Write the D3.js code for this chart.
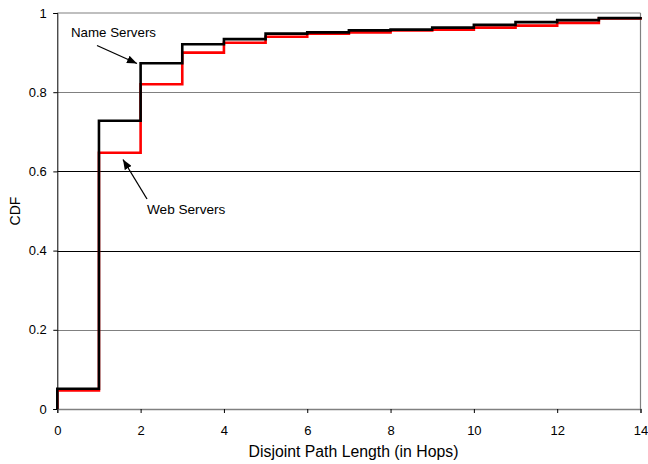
<!DOCTYPE html>
<html>
<head>
<meta charset="utf-8">
<script src="https://cdn.jsdelivr.net/npm/d3@7"></script>
<style>
  html, body { margin: 0; padding: 0; background: #fff; }
  svg { display: block; font-family: "Liberation Sans", Arial, sans-serif; }
</style>
</head>
<body>
<svg id="chart" width="648" height="464"></svg>
<script>
// Disjoint path length (hops) and cumulative fraction for each server type
const hops = [0, 1, 2, 3, 4, 5, 6, 7, 8, 9, 10, 11, 12, 13, 14];
const nameServers = [0.051, 0.728, 0.873, 0.921, 0.934, 0.948, 0.951, 0.956, 0.958, 0.963, 0.970, 0.977, 0.982, 0.987, 0.990];
const webServers  = [0.047, 0.647, 0.820, 0.900, 0.925, 0.940, 0.948, 0.951, 0.956, 0.958, 0.963, 0.968, 0.975, 0.986, 0.990];

const xTicks = [0, 2, 4, 6, 8, 10, 12, 14];
const yTicks = [0, 0.2, 0.4, 0.6, 0.8, 1];
const yTickLabels = ["0", "0.2", "0.4", "0.6", "0.8", "1"];

const svg = d3.select("#chart");
const plotLeft = 57.3, plotRight = 640.5, plotTop = 13, plotBottom = 409;

const x = d3.scaleLinear().domain([0, 14]).range([plotLeft, plotRight]);
const y = d3.scaleLinear().domain([0, 1]).range([plotBottom, plotTop]);

// Horizontal gridlines (outer pair lighter, middle pair dark)
const gridColor = d => (d === 0.2 || d === 0.8) ? "#808080" : "#000";
svg.append("g")
  .selectAll("line")
  .data(yTicks.slice(1, -1))
  .join("line")
  .attr("x1", plotLeft).attr("x2", plotRight)
  .attr("y1", d => Math.round(y(d)) + 0.5).attr("y2", d => Math.round(y(d)) + 0.5)
  .attr("stroke", gridColor).attr("stroke-width", 1);

// Plot frame: top and right edges
svg.append("line").attr("x1", plotLeft).attr("x2", plotRight).attr("y1", y(1)).attr("y2", y(1))
  .attr("stroke", "#808080").attr("stroke-width", 1.2);
svg.append("line").attr("x1", plotRight).attr("x2", plotRight).attr("y1", plotTop).attr("y2", plotBottom)
  .attr("stroke", "#808080").attr("stroke-width", 1.2);

// Y axis
const yAxis = svg.append("g")
  .attr("transform", `translate(${plotLeft},0)`)
  .call(d3.axisLeft(y).tickValues(yTicks).tickFormat((d, i) => yTickLabels[i]).tickSize(4).tickPadding(6.5));
yAxis.select(".domain").attr("stroke", "#000");
yAxis.selectAll(".tick line").attr("stroke", "#000");
yAxis.selectAll("text").attr("font-size", 13).attr("fill", "#000")
  .attr("font-family", "Liberation Sans, Arial, sans-serif");

// X axis
const xAxis = svg.append("g")
  .attr("transform", `translate(0,${plotBottom})`)
  .call(d3.axisBottom(x).tickValues(xTicks).tickFormat(d3.format("d")).tickSize(4).tickPadding(13));
xAxis.select(".domain").attr("stroke", "#808080").attr("stroke-width", 1.5);
xAxis.selectAll(".tick line").attr("stroke", "#000");
xAxis.selectAll("text").attr("font-size", 13).attr("fill", "#000")
  .attr("font-family", "Liberation Sans, Arial, sans-serif");

// Axis titles
svg.append("text")
  .attr("x", 353.5).attr("y", 456.5)
  .attr("text-anchor", "middle").attr("font-size", 15.8)
  .text("Disjoint Path Length (in Hops)");
svg.append("text")
  .attr("transform", `translate(19.5,${(plotTop + plotBottom) / 2}) rotate(-90)`)
  .attr("text-anchor", "middle").attr("font-size", 14)
  .text("CDF");

// Step CDF curves, starting from zero at hop 0
const stepLine = d3.line()
  .x(d => x(d[0]))
  .y(d => y(d[1]))
  .curve(d3.curveStepAfter);

const toPoints = vals => [[hops[0], 0]].concat(hops.map((h, i) => [h, vals[i]]));

svg.append("path")
  .datum(toPoints(webServers))
  .attr("d", stepLine)
  .attr("fill", "none").attr("stroke", "#ff0000").attr("stroke-width", 2.6);

svg.append("path")
  .datum(toPoints(nameServers))
  .attr("d", stepLine)
  .attr("fill", "none").attr("stroke", "#000").attr("stroke-width", 2.6);

// Annotations with arrows
svg.append("defs").append("marker")
  .attr("id", "arrowhead")
  .attr("viewBox", "0 0 10 8")
  .attr("refX", 10).attr("refY", 4)
  .attr("markerWidth", 10).attr("markerHeight", 8)
  .attr("markerUnits", "userSpaceOnUse")
  .attr("orient", "auto")
  .append("path").attr("d", "M0,0 L10,4 L0,8 Z").attr("fill", "#000");

svg.append("text")
  .attr("x", 71).attr("y", 36.5)
  .attr("font-size", 13.3)
  .text("Name Servers");
svg.append("line")
  .attr("x1", 97).attr("y1", 45.5)
  .attr("x2", 137).attr("y2", 63.5)
  .attr("stroke", "#000").attr("stroke-width", 1.3)
  .attr("marker-end", "url(#arrowhead)");

svg.append("text")
  .attr("x", 147).attr("y", 214)
  .attr("font-size", 13.6)
  .text("Web Servers");
svg.append("line")
  .attr("x1", 147).attr("y1", 199)
  .attr("x2", 123).attr("y2", 159.5)
  .attr("stroke", "#000").attr("stroke-width", 1.3)
  .attr("marker-end", "url(#arrowhead)");
</script>
</body>
</html>
